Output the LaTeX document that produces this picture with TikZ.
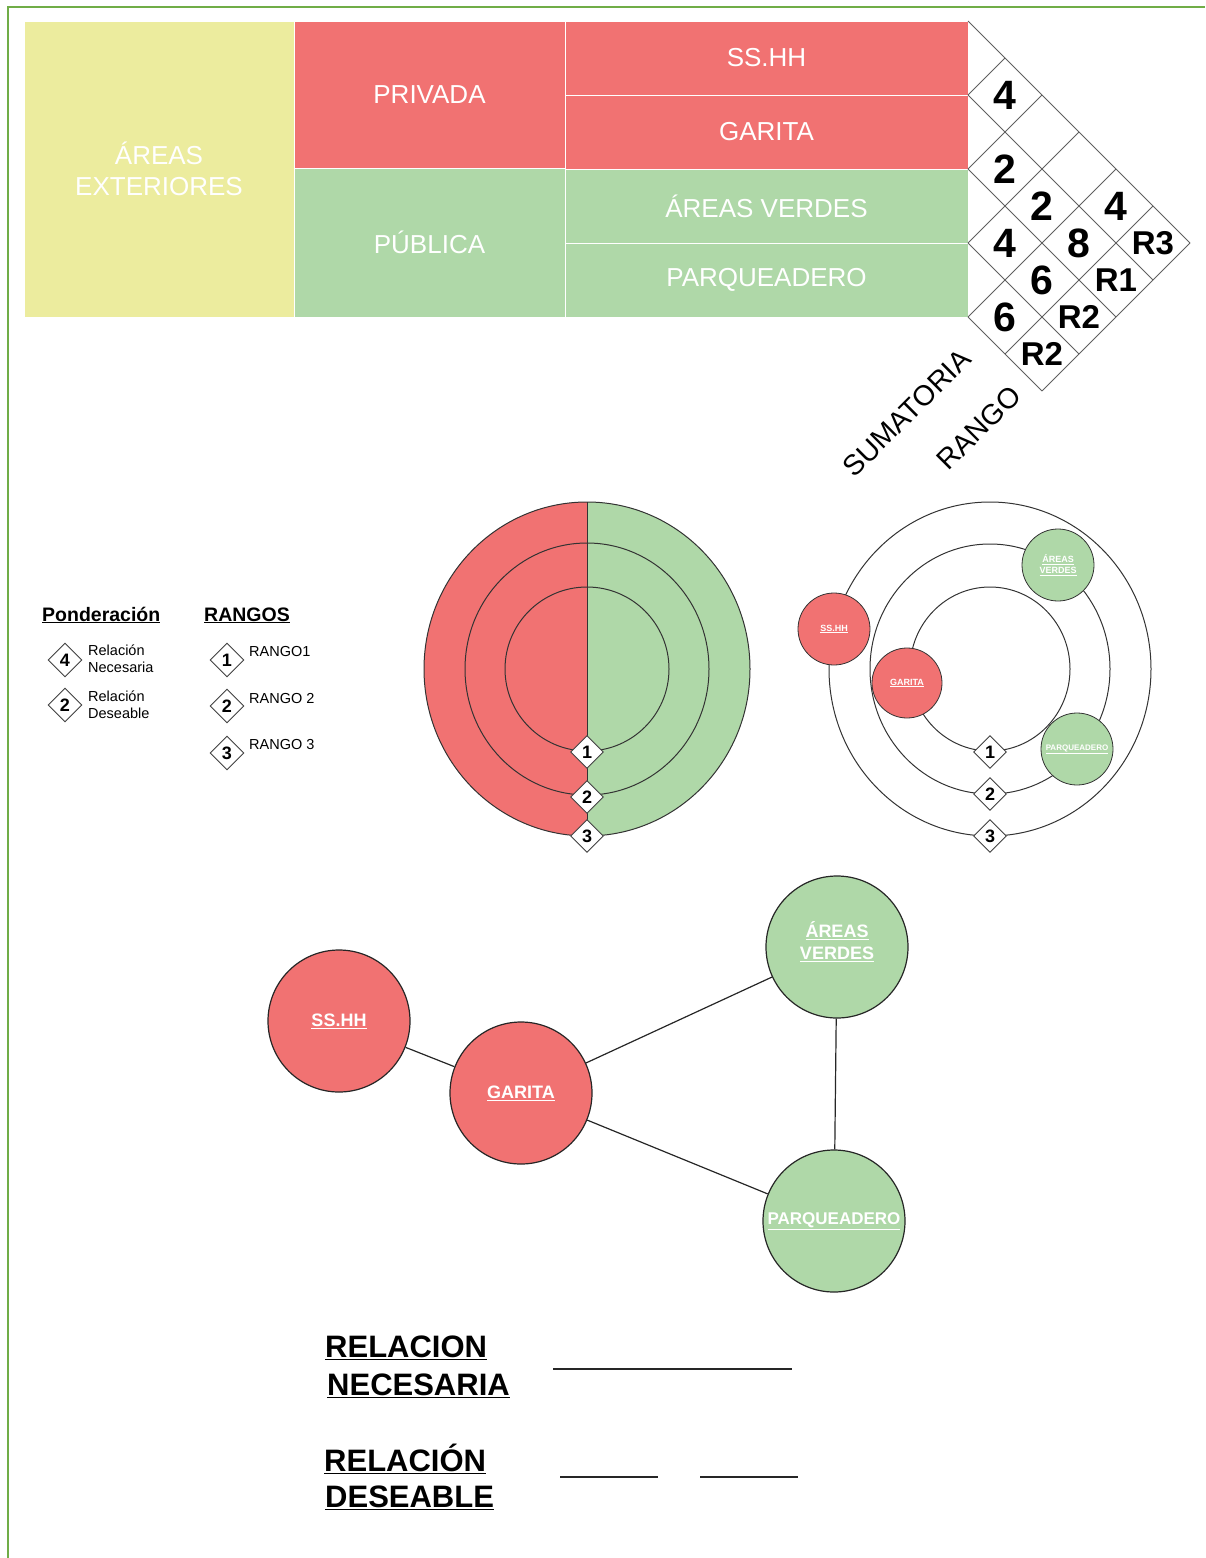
\documentclass[tikz,border=0pt]{standalone}
\usepackage{fontspec}
\setmainfont{Liberation Sans}
\usetikzlibrary{shapes.geometric}

\definecolor{redzone}{RGB}{241,114,114}
\definecolor{greenzone}{RGB}{175,216,168}
\definecolor{yellowzone}{RGB}{236,236,158}
\definecolor{framegreen}{RGB}{112,173,71}
\definecolor{gridgray}{RGB}{95,95,95}

\newcommand{\fsz}[1]{\fontsize{#1}{1.2\dimexpr #1\relax}\selectfont}

\tikzset{
  cell/.style={rectangle, draw=white, line width=1pt, inner sep=0pt, outer sep=0pt,
    text=white, align=center, font=\fsz{26pt}},
  num/.style={inner sep=0pt, font=\bfseries\fsz{41pt}},
  rnum/.style={inner sep=0pt, font=\bfseries\fsz{33pt}},
  gridline/.style={draw=gridgray, line width=1pt},
  rankmark/.style={diamond, draw=black!75, fill=white, aspect=1, inner sep=0pt,
    line width=0.9pt, minimum width=#1, minimum height=#1, font=\bfseries\fsz{18pt}},
  rankmark/.default=34pt,
  ring/.style={draw=black!80, line width=1pt},
  bubble/.style={circle, draw=black!85, line width=1.2pt, minimum size=142pt, inner sep=0pt,
    text=white, align=center, font=\bfseries\fsz{18pt}},
  minibubble/.style={circle, draw=black!80, line width=0.8pt, minimum size=72pt, inner sep=0pt,
    text=white, align=center, font=\bfseries\fontsize{9pt}{11pt}\selectfont},
  legtext/.style={inner sep=0pt, anchor=base west, align=left, font=\fontsize{14.5pt}{16.5pt}\selectfont},
  legtitle/.style={inner sep=0pt, anchor=base west, font=\bfseries\fsz{19.5pt}},
  bigkey/.style={inner sep=0pt, anchor=base west, font=\bfseries\fsz{31pt}},
  sidelabel/.style={rotate=45, inner sep=0pt, font=\fsz{28.5pt}},
  link/.style={draw=black!85, line width=1.2pt},
}

\begin{document}
\begin{tikzpicture}[x=1pt,y=-1pt]
\useasboundingbox (0,0) rectangle (1205,1558);

% page frame
\draw[framegreen, line width=2pt] (8,1558) -- (8,7) -- (1205,7);

% zoning table
\node[cell, fill=yellowzone, minimum width=270pt, minimum height=296pt] (ext) at (159,169) {ÁREAS\\EXTERIORES};
\node[cell, fill=redzone, minimum width=271pt, minimum height=147pt] (priv) at (429.5,94.5) {PRIVADA};
\node[cell, fill=greenzone, minimum width=271pt, minimum height=149pt] (pub) at (429.5,242.5) {PÚBLICA};
\node[cell, fill=redzone, minimum width=403pt, minimum height=74pt] (tss) at (766.5,58) {SS.HH};
\node[cell, fill=redzone, minimum width=403pt, minimum height=74pt] (tga) at (766.5,132) {GARITA};
\node[cell, fill=greenzone, minimum width=403pt, minimum height=74pt] (tav) at (766.5,206) {ÁREAS VERDES};
\node[cell, fill=greenzone, minimum width=403pt, minimum height=74pt] (tpq) at (766.5,280) {PARQUEADERO};

% relation matrix grid
\foreach \k in {0,...,4}
  \draw[gridline] (968,{21+74*\k}) -- ++({222-37*\k},{222-37*\k});
\foreach \m in {1,...,4}
  \draw[gridline] (968,{21+74*\m}) -- ++({37*\m},{-37*\m});
\draw[gridline] (1005,354) -- (1153,206);
\draw[gridline] (1042,391) -- (1190,243);

% weights
\node[num] (w12) at (1005,95) {4};
\node[num] (w23) at (1005,169) {2};
\node[num] (w24) at (1042,206) {2};
\node[num] (w34) at (1005,243) {4};
% sums
\node[num] (s1) at (1116,206) {4};
\node[num] (s2) at (1079,243) {8};
\node[num] (s3) at (1042,280) {6};
\node[num] (s4) at (1005,317) {6};
% ranks
\node[rnum] (r1) at (1153,243) {R3};
\node[rnum] (r2) at (1116,280) {R1};
\node[rnum] (r3) at (1079,317) {R2};
\node[rnum] (r4) at (1042,354) {R2};

\node[sidelabel] (sumlab) at (907,413) {SUMATORIA};
\node[sidelabel] (ranklab) at (979,428) {RANGO};

% legends
\node[legtitle] (ponTitle) at (42,621) {\underline{Ponderación}};
\node[rankmark] (p4) at (65,660) {4};
\node[legtext] (p4t) at (88,672) {Relación\\Necesaria};
\node[rankmark] (p2) at (65,705) {2};
\node[legtext] (p2t) at (88,718) {Relación\\Deseable};

\node[legtitle] (rgTitle) at (204,621) {\underline{RANGOS}};
\node[rankmark] (g1) at (227,660) {1};
\node[legtext] (g1t) at (249,656) {RANGO1};
\node[rankmark] (g2) at (227,706) {2};
\node[legtext] (g2t) at (249,703) {RANGO 2};
\node[rankmark] (g3) at (227,753) {3};
\node[legtext] (g3t) at (249,749) {RANGO 3};

% zoning rings: private half and public half
\fill[redzone] (587,836) arc[start angle=90, end angle=270, x radius=163, y radius=167] -- cycle;
\fill[greenzone] (587,502) arc[start angle=270, end angle=450, x radius=163, y radius=167] -- cycle;
\draw[ring] (587,669) ellipse[x radius=163, y radius=167];
\draw[ring] (587,669) ellipse[x radius=122, y radius=126];
\draw[ring] (587,669) ellipse[x radius=82, y radius=82];
\draw[ring] (587,502) -- (587,836);
\node[rankmark=33pt] (a1) at (587,752) {1};
\node[rankmark=33pt] (a2) at (587,797) {2};
\node[rankmark=33pt] (a3) at (587,836) {3};

% rings with placed spaces
\draw[ring] (990,669) ellipse[x radius=161, y radius=167];
\draw[ring] (990,669) ellipse[x radius=120, y radius=125];
\draw[ring] (990,669) ellipse[x radius=80, y radius=82];
\node[minibubble, fill=redzone] (mss) at (834,629) {\underline{SS.HH}};
\node[minibubble, fill=redzone, minimum size=70pt] (mga) at (907,683) {\underline{GARITA}};
\node[minibubble, fill=greenzone] (mav) at (1058,565) {\underline{ÁREAS}\\[0pt]\underline{VERDES}};
\node[minibubble, fill=greenzone, font=\bfseries\fontsize{8pt}{10pt}\selectfont] (mpq) at (1077,749) {\underline{PARQUEADERO}};
\node[rankmark=33pt] (b1) at (990,752) {1};
\node[rankmark=33pt] (b2) at (990,794) {2};
\node[rankmark=33pt] (b3) at (990,836) {3};

% relation graph
\node[bubble, fill=redzone] (ss) at (339,1021) {\underline{SS.HH}};
\node[bubble, fill=redzone] (ga) at (521,1093) {\underline{GARITA}};
\node[bubble, fill=greenzone] (av) at (837,947) {\underline{ÁREAS}\\[1pt]\underline{VERDES}\\[-9pt]};
\node[bubble, fill=greenzone, font=\bfseries\fsz{17pt}] (pq) at (834,1221) {\underline{PARQUEADERO}};
\draw[link] (ss) -- (ga);
\draw[link] (ga) -- (av);
\draw[link] (ga) -- (pq);
\draw[link] (av) -- (pq);

% line key
\node[bigkey] (kn1) at (325,1357) {\underline{RELACION}};
\node[bigkey] (kn2) at (327,1395) {\underline{NECESARIA}};
\node[bigkey] (kd1) at (324,1471) {\underline{RELACIÓN}};
\node[bigkey] (kd2) at (325,1507) {\underline{DESEABLE}};
\coordinate (ns) at (553,1369);
\coordinate (ne) at (792,1369);
\coordinate (ds) at (560,1477);
\coordinate (de) at (798,1477);
\draw[black!85, line width=1.5pt] (ns) -- (ne);
\draw[black!85, line width=1.5pt, dash pattern=on 98pt off 42pt] (ds) -- (de);
\end{tikzpicture}
\end{document}
